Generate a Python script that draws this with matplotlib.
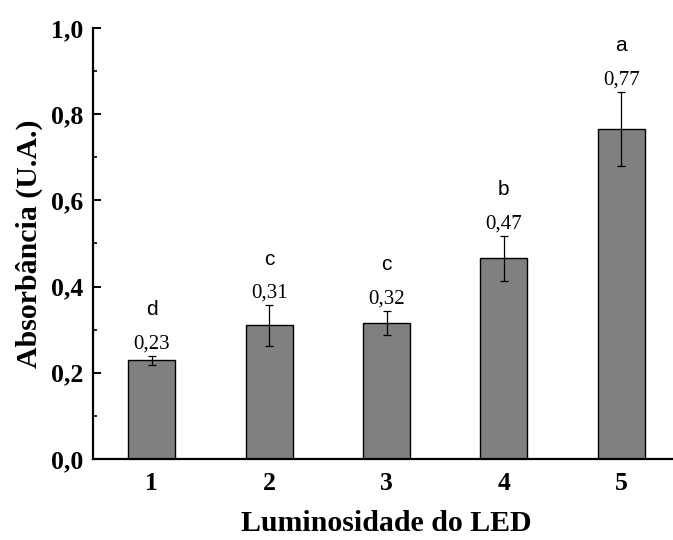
import matplotlib
matplotlib.use("Agg")
import matplotlib.pyplot as plt
from matplotlib.ticker import MultipleLocator, FixedLocator

categories = ["1", "2", "3", "4", "5"]
values = [0.229, 0.310, 0.316, 0.466, 0.766]
errors = [0.010, 0.047, 0.028, 0.052, 0.086]
value_labels = ["0,23", "0,31", "0,32", "0,47", "0,77"]
group_letters = ["d", "c", "c", "b", "a"]
y_ticks = [0.0, 0.2, 0.4, 0.6, 0.8, 1.0]
y_tick_labels = ["0,0", "0,2", "0,4", "0,6", "0,8", "1,0"]

fig = plt.figure(figsize=(6.73, 5.4), dpi=100)
ax = fig.add_axes([93/673, 81/540, 587/673, 431/540])

x = list(range(1, len(categories) + 1))
ax.bar(x, values, width=0.4, color="#808080", edgecolor="black", linewidth=1.0,
       yerr=errors, error_kw=dict(ecolor="black", elinewidth=0.9, capsize=3, capthick=0.9),
       zorder=2)

for xi, v, e, lab, let in zip(x, values, errors, value_labels, group_letters):
    ax.annotate(lab, (xi, v + e), xytext=(0, 12*0.72), textcoords="offset points",
                ha="center", va="center", fontsize=15, family="Liberation Serif")
    ax.annotate(let, (xi, v + e), xytext=(0, 46*0.72), textcoords="offset points",
                ha="center", va="center", fontsize=15, family="Liberation Sans")

ax.set_xlim(0.5, 5.5)
ax.set_ylim(0, 1.0)
ax.xaxis.set_major_locator(FixedLocator(x))
ax.set_xticklabels(categories)
ax.yaxis.set_major_locator(FixedLocator(y_ticks))
ax.set_yticklabels(y_tick_labels)
ax.yaxis.set_minor_locator(MultipleLocator(0.1))

for s in ["top", "right"]:
    ax.spines[s].set_visible(False)
for s in ["left", "bottom"]:
    ax.spines[s].set_linewidth(1.6)

ax.tick_params(axis="both", which="major", direction="in", length=5.8, width=1.4)
ax.tick_params(axis="y", which="minor", direction="in", length=3, width=1.2)
ax.tick_params(axis="y", which="major", pad=7)
ax.tick_params(axis="x", which="major", pad=9)

for lbl in ax.get_xticklabels() + ax.get_yticklabels():
    lbl.set_fontfamily("Liberation Serif")
    lbl.set_fontweight("bold")
    lbl.set_fontsize(18.5)

ax.set_xlabel("Luminosidade do LED", fontsize=21.5, family="Liberation Serif",
              fontweight="bold", labelpad=11)
ax.set_ylabel("Absorbância (U.A.)", fontsize=21.5, family="Liberation Serif",
              fontweight="bold", labelpad=6)

fig.savefig("out.png", dpi=100)
